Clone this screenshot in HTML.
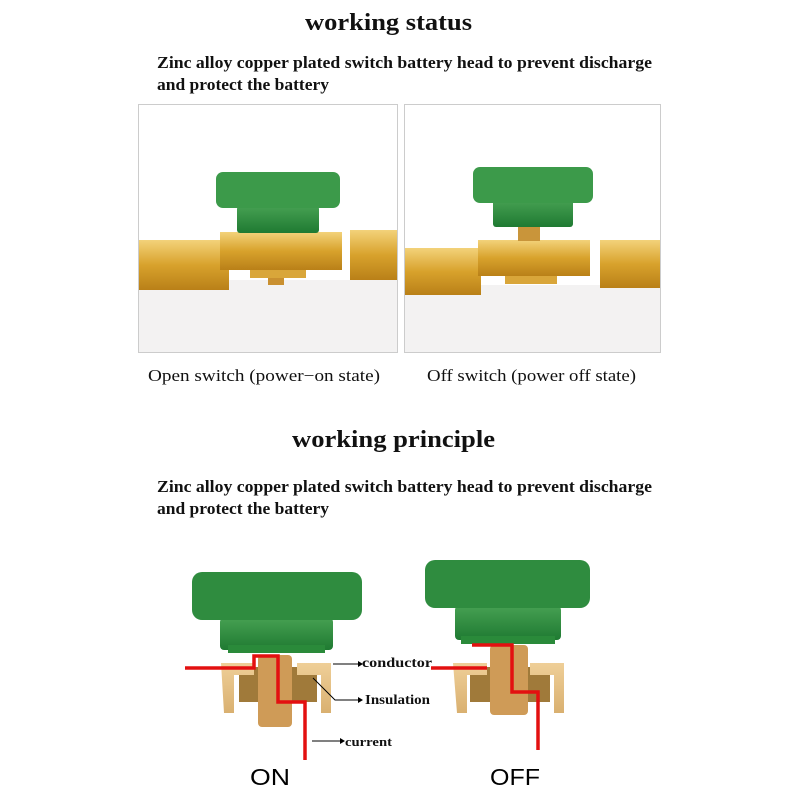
<!DOCTYPE html>
<html><head><style>
body{margin:0;background:#fff;width:800px;height:800px;overflow:hidden}
svg{display:block}
.t{font-family:"Liberation Serif",serif;fill:#111}
</style></head><body>
<svg width="800" height="800" viewBox="0 0 800 800">
<defs>
<linearGradient id="gold" x1="0" y1="0" x2="0" y2="1"><stop offset="0" stop-color="#f3d27a"/><stop offset=".5" stop-color="#d8a22c"/><stop offset="1" stop-color="#b98018"/></linearGradient>
<linearGradient id="grn" x1="0" y1="0" x2="0" y2="1"><stop offset="0" stop-color="#46a052"/><stop offset="1" stop-color="#1f7a32"/></linearGradient>
<linearGradient id="sand" x1="0" y1="0" x2="0" y2="1"><stop offset="0" stop-color="#efcf98"/><stop offset="1" stop-color="#d9b070"/></linearGradient>
</defs>
<text x="305" y="30" textLength="167" lengthAdjust="spacingAndGlyphs" class="t" font-size="24" font-weight="bold">working status</text>
<text x="157" y="68" textLength="495" lengthAdjust="spacingAndGlyphs" class="t" font-size="17" font-weight="bold">Zinc alloy copper plated switch battery head to prevent discharge</text>
<text x="157" y="90" textLength="172" lengthAdjust="spacingAndGlyphs" class="t" font-size="17" font-weight="bold">and protect the battery</text>
<rect x="138.5" y="104.5" width="259" height="248" fill="#fff" stroke="#ccc"/>
<rect x="404.5" y="104.5" width="256" height="248" fill="#fff" stroke="#ccc"/>
<rect x="139" y="280" width="258" height="72" fill="#f3f2f2"/>
<rect x="405" y="285" width="255" height="67" fill="#f3f2f2"/>
<rect x="139" y="240" width="90" height="50" fill="url(#gold)"/>
<rect x="350" y="230" width="47" height="50" fill="url(#gold)"/>
<rect x="220" y="232" width="122" height="38" fill="url(#gold)"/>
<rect x="250" y="270" width="56" height="8" fill="#d9a63a"/>
<rect x="268" y="278" width="16" height="7" fill="#c99030"/>
<rect x="237" y="206" width="82" height="27" rx="3" fill="url(#grn)"/>
<rect x="216" y="172" width="124" height="36" rx="7" fill="#3c9a4a"/>
<rect x="405" y="248" width="76" height="47" fill="url(#gold)"/>
<rect x="600" y="240" width="60" height="48" fill="url(#gold)"/>
<rect x="478" y="240" width="112" height="36" fill="url(#gold)"/>
<rect x="505" y="276" width="52" height="8" fill="#d9a63a"/>
<rect x="518" y="224" width="22" height="17" fill="#c9953a"/>
<rect x="493" y="200" width="80" height="27" rx="3" fill="url(#grn)"/>
<rect x="473" y="167" width="120" height="36" rx="7" fill="#3c9a4a"/>
<text x="148" y="381" textLength="232" lengthAdjust="spacingAndGlyphs" class="t" font-size="16.5">Open switch (power−on state)</text>
<text x="427" y="381" textLength="209" lengthAdjust="spacingAndGlyphs" class="t" font-size="16.5">Off switch (power off state)</text>
<text x="292" y="447" textLength="203" lengthAdjust="spacingAndGlyphs" class="t" font-size="24" font-weight="bold">working principle</text>
<text x="157" y="492" textLength="495" lengthAdjust="spacingAndGlyphs" class="t" font-size="17" font-weight="bold">Zinc alloy copper plated switch battery head to prevent discharge</text>
<text x="157" y="514" textLength="172" lengthAdjust="spacingAndGlyphs" class="t" font-size="17" font-weight="bold">and protect the battery</text>
<!-- ON -->
<rect x="239" y="667" width="78" height="35" fill="#a07a3a"/>
<path d="M221 663h33v12h-20v38h-10z M297 663h34v50h-10v-38h-24z" fill="url(#sand)"/>
<rect x="258" y="655" width="34" height="72" rx="4" fill="#cf9b57"/>
<rect x="220" y="618" width="113" height="32" rx="4" fill="url(#grn)"/>
<rect x="228" y="645" width="97" height="8" fill="#2a8a3a"/>
<rect x="192" y="572" width="170" height="48" rx="10" fill="#2f8c3f"/>
<polyline points="185,668 254,668 254,656 278,656 278,702 305,702 305,760" fill="none" stroke="#e31010" stroke-width="3.5"/>
<line x1="333" y1="664" x2="358" y2="664" stroke="#000"/><path d="M358 661l5 3-5 3z"/>
<path d="M313 678 L335 700 L358 700" stroke="#000" fill="none"/><path d="M358 697l5 3-5 3z"/>
<line x1="312" y1="741" x2="340" y2="741" stroke="#000"/><path d="M340 738l5 3-5 3z"/>
<text x="362" y="667" textLength="70" lengthAdjust="spacingAndGlyphs" class="t" font-size="14" font-weight="bold">conductor</text>
<text x="365" y="704" textLength="65" lengthAdjust="spacingAndGlyphs" class="t" font-size="14" font-weight="bold">Insulation</text>
<text x="345" y="746" textLength="47" lengthAdjust="spacingAndGlyphs" class="t" font-size="13" font-weight="bold">current</text>
<text x="250" y="785" textLength="40" lengthAdjust="spacingAndGlyphs" font-family="Liberation Sans,sans-serif" font-size="23" fill="#000">ON</text>
<!-- OFF -->
<rect x="470" y="667" width="80" height="35" fill="#a07a3a"/>
<path d="M453 663h34v12h-20v38h-10z M530 663h34v50h-10v-38h-24z" fill="url(#sand)"/>
<rect x="490" y="645" width="38" height="70" rx="4" fill="#cf9b57"/>
<rect x="455" y="606" width="106" height="34" rx="4" fill="url(#grn)"/>
<rect x="461" y="636" width="94" height="8" fill="#2a8a3a"/>
<rect x="425" y="560" width="165" height="48" rx="10" fill="#2f8c3f"/>
<polyline points="431,668 487,668" fill="none" stroke="#e31010" stroke-width="3.5"/>
<polyline points="472,645 512,645 512,692 538,692 538,750" fill="none" stroke="#e31010" stroke-width="3.5"/>
<text x="490" y="785" textLength="50" lengthAdjust="spacingAndGlyphs" font-family="Liberation Sans,sans-serif" font-size="23" fill="#000">OFF</text>
</svg>
</body></html>
